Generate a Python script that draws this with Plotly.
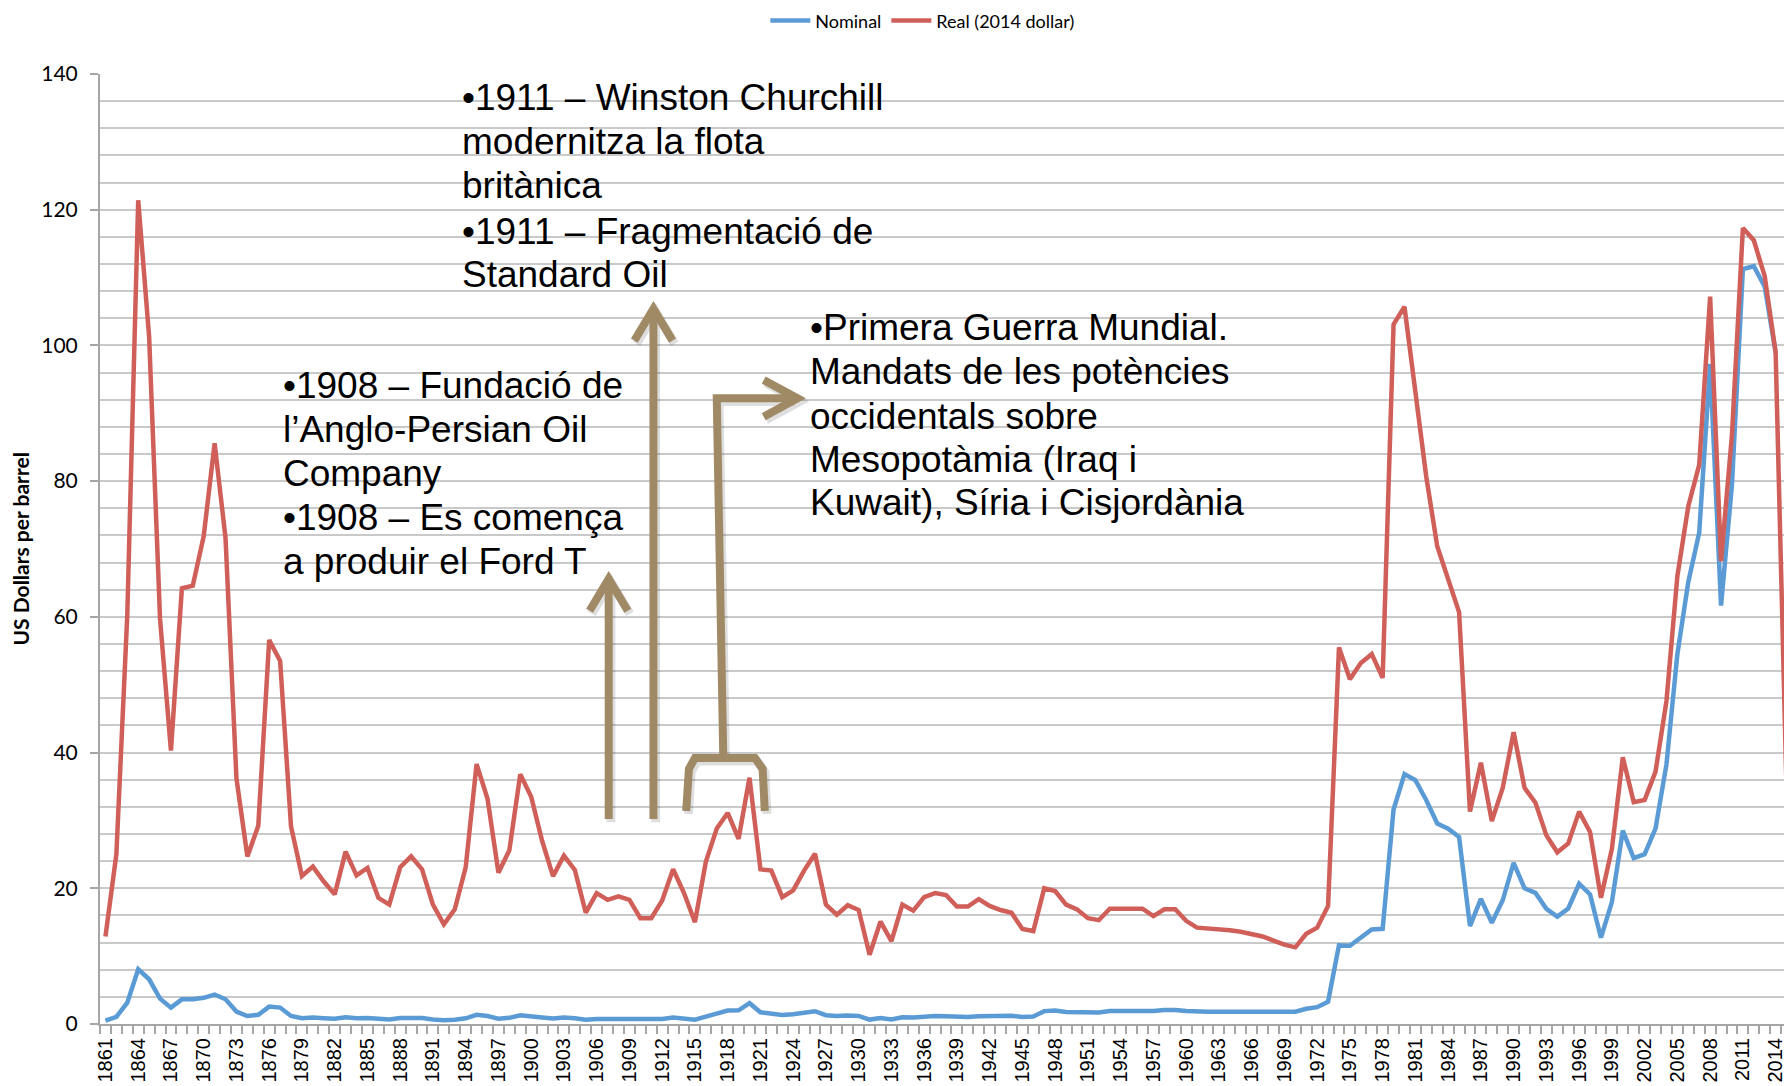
import plotly.graph_objects as go

years = list(range(1861, 2016))

nominal = [
    0.49, 1.05, 3.15, 8.06, 6.59, 3.74, 2.41, 3.63, 3.64, 3.86,
    4.34, 3.64, 1.83, 1.17, 1.35, 2.56, 2.42, 1.19, 0.86, 0.95,
    0.86, 0.78, 1.00, 0.84, 0.88, 0.71, 0.67, 0.88, 0.94, 0.87,
    0.67, 0.56, 0.64, 0.84, 1.36, 1.18, 0.79, 0.91, 1.29, 1.19,
    0.96, 0.80, 0.94, 0.86, 0.62, 0.73, 0.72, 0.72, 0.70, 0.61,
    0.61, 0.74, 0.95, 0.81, 0.64, 1.10, 1.56, 1.98, 2.01, 3.07,
    1.73, 1.61, 1.34, 1.43, 1.68, 1.88, 1.30, 1.17, 1.27, 1.19,
    0.65, 0.87, 0.67, 1.00, 0.97, 1.09, 1.18, 1.13, 1.02, 1.02,
    1.14, 1.19, 1.20, 1.21, 1.05, 1.12, 1.90, 1.99, 1.78, 1.71,
    1.71, 1.71, 1.93, 1.93, 1.93, 1.93, 1.90, 2.08, 2.08, 1.90,
    1.80, 1.80, 1.80, 1.80, 1.80, 1.80, 1.80, 1.80, 1.80, 1.80,
    2.24, 2.48, 3.29, 11.58, 11.53, 12.80, 13.92, 14.02, 31.61, 36.83,
    35.93, 32.97, 29.55, 28.78, 27.56, 14.43, 18.44, 14.92, 18.23, 23.73,
    20.00, 19.32, 16.97, 15.82, 17.02, 20.67, 19.09, 12.72, 17.97, 28.50,
    24.44, 25.02, 28.83, 38.27, 54.52, 65.14, 72.39, 97.26, 61.67, 79.50,
    111.26, 111.67, 108.66, 98.95, None,
]

real_2014 = [
    12.9, 25.0, 60.3, 121.4, 101.3, 59.7, 40.3, 64.2, 64.6, 71.9,
    85.6, 71.6, 36.2, 24.7, 29.2, 56.6, 53.5, 29.1, 21.8, 23.2,
    21.0, 19.1, 25.4, 21.9, 23.0, 18.6, 17.6, 23.1, 24.7, 22.8,
    17.6, 14.7, 16.9, 23.1, 38.3, 33.2, 22.3, 25.6, 36.8, 33.5,
    27.0, 21.8, 24.8, 22.7, 16.4, 19.3, 18.3, 18.8, 18.3, 15.6,
    15.6, 18.2, 22.8, 19.3, 15.0, 23.9, 28.8, 31.1, 27.3, 36.3,
    22.8, 22.6, 18.7, 19.7, 22.6, 25.1, 17.6, 16.1, 17.5, 16.8,
    10.2, 15.1, 12.2, 17.6, 16.7, 18.7, 19.3, 19.0, 17.3, 17.3,
    18.4, 17.4, 16.8, 16.4, 14.0, 13.7, 20.0, 19.6, 17.6, 16.9,
    15.6, 15.3, 17.0, 17.0, 17.0, 17.0, 15.9, 16.9, 16.9, 15.2,
    14.2, 14.1, 13.9, 13.8, 13.6, 13.2, 12.9, 12.3, 11.7, 11.3,
    13.3, 14.2, 17.4, 55.5, 50.8, 53.2, 54.5, 51.0, 103.1, 105.7,
    93.3, 80.6, 70.4, 65.8, 60.7, 31.3, 38.5, 29.9, 34.8, 43.0,
    34.8, 32.6, 27.8, 25.3, 26.6, 31.3, 28.3, 18.6, 25.8, 39.3,
    32.7, 33.0, 37.2, 47.6, 66.0, 76.3, 82.4, 107.2, 68.2, 86.8,
    117.3, 115.5, 110.2, 99.0, 34.5,
]

tick_years = list(range(1861, 2015, 3))
tick_labels = [str(y) for y in tick_years]

block_1911 = [
    "•1911 – Winston Churchill",
    "modernitza la flota",
    "britànica",
    "•1911 – Fragmentació de",
    "Standard Oil",
]
block_1908 = [
    "•1908 – Fundació de",
    "l’Anglo-Persian Oil",
    "Company",
    "•1908 – Es comença",
    "a produir el Ford T",
]
block_wwi = [
    "•Primera Guerra Mundial.",
    "Mandats de les potències",
    "occidentals sobre",
    "Mesopotàmia (Iraq i",
    "Kuwait), Síria i Cisjordània",
]

BLUE = "#5B9BD5"
RED = "#CF5F58"
GRID = "#C9C9C9"
AXIS = "#A6A6A6"
ARROW = "#A08A66"

fig = go.Figure()
fig.add_trace(go.Scatter(x=years, y=nominal, mode="lines", name="Nominal",
                         line=dict(color=BLUE, width=4.5)))
fig.add_trace(go.Scatter(x=years, y=real_2014, mode="lines", name="Real (2014 dollar)",
                         line=dict(color=RED, width=4.5)))

annotations = []
def add_block(lines, x0, ys):
    for t, yy in zip(lines, ys):
        annotations.append(dict(x=x0, y=yy, xref="x", yref="y", text=t, showarrow=False,
                                xanchor="left", yanchor="middle",
                                font=dict(family="Liberation Sans, Arial", size=37, color="#000")))

add_block(block_1911, 1893.5, [136.6, 130.0, 123.6, 116.8, 110.5])
add_block(block_1908, 1877.1, [94.1, 87.6, 81.2, 74.6, 68.2])
add_block(block_wwi, 1925.4, [102.7, 96.2, 89.6, 83.2, 76.8])

annotations.append(dict(x=-0.047, y=0.5, xref="paper", yref="paper", text="<b>US Dollars per barrel</b>",
                        textangle=-90, showarrow=False, xanchor="center", yanchor="middle",
                        font=dict(family="Lato", size=21, color="#000")))

def shifted(pts, dx, dy):
    return [(x + dx, y + dy) for x, y in pts]

def to_path(pts):
    return "M " + " L ".join(f"{x},{y}" for x, y in pts)

arrow_paths = []
# 1908 arrow
arrow_paths.append([(1907.1, 30.2), (1907.1, 65.3)])
arrow_paths.append([(1905.35, 60.9), (1907.1, 65.6), (1908.85, 60.9)])
# 1911 arrow
arrow_paths.append([(1911.2, 30.2), (1911.2, 105.1)])
arrow_paths.append([(1909.45, 100.7), (1911.2, 105.4), (1912.95, 100.7)])
# WWI bracket + arrow
arrow_paths.append([(1914.2, 31.4), (1914.45, 37.6), (1915.0, 39.2), (1920.5, 39.2), (1921.2, 37.6), (1921.4, 31.4)])
arrow_paths.append([(1917.6, 39.2), (1917.0, 92.2), (1923.9, 92.2)])
arrow_paths.append([(1921.3, 94.9), (1924.4, 92.2), (1921.3, 89.5)])

shapes = []
for pts in arrow_paths:
    shapes.append(dict(type="path", path=to_path(shifted(pts, 0.2, -0.45)), xref="x", yref="y",
                       line=dict(color="rgba(0,0,0,0.13)", width=9), layer="above"))
for pts in arrow_paths:
    shapes.append(dict(type="path", path=to_path(pts), xref="x", yref="y",
                       line=dict(color=ARROW, width=8), layer="above"))

# The page body adds an 8px offset, so the figure is 8px smaller and margins shifted.
fig.update_layout(
    width=1784, height=1078,
    margin=dict(l=92, r=0, t=66, b=62, autoexpand=False),
    paper_bgcolor="white", plot_bgcolor="white",
    showlegend=True,
    legend=dict(orientation="h", x=0.486, y=1.056, xanchor="center", yanchor="middle",
                font=dict(family="Lato", size=18, color="#000"), itemwidth=40,
                bgcolor="rgba(0,0,0,0)"),
    annotations=annotations,
    shapes=shapes,
)

fig.update_xaxes(
    range=[1860.5, 2015.5], tickmode="array", tickvals=tick_years, ticktext=tick_labels,
    tickangle=-90, ticks="", showgrid=False, zeroline=False,
    showline=True, linecolor=AXIS, linewidth=2,
    tickfont=dict(family="Liberation Sans, Arial", size=20, color="#000"),
    minor=dict(tick0=1860.5, dtick=1, ticks="outside", ticklen=8, tickcolor=AXIS, tickwidth=1.5, showgrid=False),
    ticklabelstandoff=4,
)
fig.update_yaxes(
    range=[0, 140], dtick=20, tick0=0, ticks="outside", ticklen=8, tickcolor=AXIS, tickwidth=2,
    showgrid=True, gridcolor=GRID, gridwidth=2, zeroline=False,
    showline=True, linecolor=AXIS, linewidth=2,
    tickfont=dict(family="Lato", size=21, color="#000"),
    minor=dict(dtick=4, showgrid=True, gridcolor=GRID, gridwidth=2, ticks=""),
    ticklabelstandoff=8,
)

fig.write_html("out.html")
